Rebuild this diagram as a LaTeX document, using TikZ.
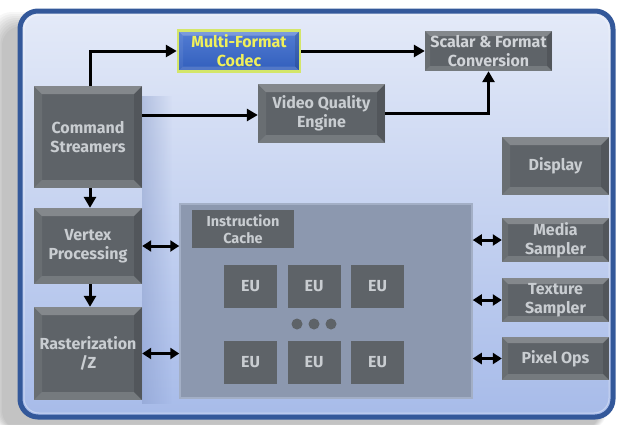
\documentclass[tikz,border=0pt]{standalone}
\usepackage{fontspec}
\setmainfont{Fira Sans}
\usetikzlibrary{arrows.meta,fadings}
\definecolor{frTop}{HTML}{E4EAF8}
\definecolor{frBot}{HTML}{A7BBE9}
\definecolor{frBorder}{HTML}{33589A}
\definecolor{boxgray}{HTML}{5E6368}
\definecolor{boxtext}{HTML}{C9CDD1}
\definecolor{panelc}{HTML}{8C98AF}
\definecolor{paneledge}{HTML}{A3AFC6}
\definecolor{codecblue}{HTML}{3566CC}
\definecolor{codecedge}{HTML}{D4E66A}
\definecolor{codectext}{HTML}{F0F05A}
\definecolor{shblue}{HTML}{8497C6}
\newcommand{\boxfont}{\bfseries\fontsize{16}{19}\selectfont}
\newcommand{\smallboxfont}{\bfseries\fontsize{14.5}{17.5}\selectfont}
\newcommand{\bvl}[1]{%
\path (path picture bounding box.north west) coordinate (bNW)
 (path picture bounding box.north east) coordinate (bNE)
 (path picture bounding box.south west) coordinate (bSW)
 (path picture bounding box.south east) coordinate (bSE);
\path ([xshift=#1,yshift=-#1]bNW) coordinate (iNW) ([xshift=-#1,yshift=-#1]bNE) coordinate (iNE)
 ([xshift=#1,yshift=#1]bSW) coordinate (iSW) ([xshift=-#1,yshift=#1]bSE) coordinate (iSE);
\fill[white,opacity=.24] (bNW)--(bNE)--(iNE)--(iNW)--cycle;
\fill[white,opacity=.15] (bSW)--(bSE)--(iSE)--(iSW)--cycle;
\fill[white,opacity=.07] (bNW)--(iNW)--(iSW)--(bSW)--cycle;
\fill[black,opacity=.12] (bNE)--(iNE)--(iSE)--(bSE)--cycle;
}
\tikzset{
  gbox/.style={fill=boxgray, text=boxtext, font=\boxfont, align=center, inner sep=0pt, path picture={\bvl{8pt}}},
  eubox/.style={fill=boxgray, text=boxtext, font=\boxfont, align=center, inner sep=0pt, minimum width=53pt, minimum height=43pt},
  codecbox/.style={top color=codecblue!85!white, bottom color=codecblue!92!black, draw=codecedge, line width=2.5pt, text=codectext, font=\boxfont, align=center, inner sep=0pt, path picture={\bvl{5pt}}},
  panelbox/.style={fill=panelc, draw=paneledge, line width=1.5pt, inner sep=0pt},
  arr/.style={line width=3pt, -{Triangle[length=11pt,width=12pt]}},
  darr/.style={line width=3pt, {Triangle[length=9pt,width=11pt]}-{Triangle[length=9pt,width=11pt]}}
}
\begin{document}
\begin{tikzpicture}[x=1pt,y=-1pt]
\useasboundingbox (0,0) rectangle (617,424);
\fill[white] (0,0) rectangle (617,424);
% outer shadow
\foreach \k in {0,...,7}{
  \fill[black,opacity=0.03,rounded corners=20pt] (2-\k*1.5,26-\k*2) rectangle (600+\k,430);
}
% frame
\shade[top color=frTop,bottom color=frBot,rounded corners=18pt] (20,11) rectangle (613,417);
\draw[white,opacity=.35,line width=1pt,rounded corners=15pt] (24,15) rectangle (609,413);
\draw[frBorder,line width=5pt,rounded corners=18pt] (20,11) rectangle (613,417);
% soft shadow right of the left column
\fill[shblue,opacity=.45,path fading=east] (142,96) rectangle (172,404);

% nodes
\node[codecbox, minimum width=122pt, minimum height=41pt] (codec) at (239,51) {Multi-Format\\Codec};
\node[gbox, minimum width=127pt, minimum height=40pt, text=boxtext!85!white, path picture={\bvl{5pt}}] (scalar) at (488.5,51) {Scalar \& Format\\Conversion};
\node[gbox, minimum width=108pt, minimum height=102pt] (cs) at (88,137) {Command\\Streamers};
\node[gbox, minimum width=127pt, minimum height=59pt] (vqe) at (321.5,113.5) {Video Quality\\Engine};
\node[gbox, minimum width=107pt, minimum height=58pt] (display) at (555.5,166) {Display};
\node[gbox, minimum width=108pt, minimum height=76pt] (vertex) at (88,246) {Vertex\\Processing};
\node[gbox, minimum width=108pt, minimum height=93pt] (raster) at (88,353.5) {Rasterization\\/Z};
\node[panelbox, minimum width=292pt, minimum height=194pt] (panel) at (326,301) {};
\node[fill=boxgray, text=boxtext, font=\smallboxfont, align=center, inner sep=0pt, minimum width=102pt, minimum height=38pt] (icache) at (243,229) {Instruction\\Cache};
\node[eubox] (eu1) at (250.5,286.5) {EU};
\node[eubox] (eu2) at (314,286.5) {EU};
\node[eubox] (eu3) at (377.5,286.5) {EU};
\node[eubox] (eu4) at (250.5,362.5) {EU};
\node[eubox] (eu5) at (314,362.5) {EU};
\node[eubox] (eu6) at (377.5,362.5) {EU};
\node[circle, fill=boxgray, inner sep=0pt, minimum size=11pt] (d1) at (297,324) {};
\node[circle, fill=boxgray, inner sep=0pt, minimum size=11pt] (d2) at (314,324) {};
\node[circle, fill=boxgray, inner sep=0pt, minimum size=11pt] (d3) at (331,324) {};
\node[gbox, minimum width=107pt, minimum height=44pt, path picture={\bvl{6pt}}] (media) at (555.5,240) {Media\\Sampler};
\node[gbox, minimum width=107pt, minimum height=44pt, path picture={\bvl{6pt}}] (texture) at (555.5,300) {Texture\\Sampler};
\node[gbox, minimum width=107pt, minimum height=43pt, path picture={\bvl{6pt}}] (pixel) at (555.5,358.5) {Pixel Ops};

% connectors
\draw[arr] ([xshift=2pt]cs.north) |- (codec.west);
\draw[arr] (codec.east) -- (scalar.west);
\draw[arr] ([yshift=22pt]cs.east) -- ([yshift=22pt]cs.east -| vqe.west);
\draw[arr] (vqe.east) -| (scalar.south);
\draw[arr] ([xshift=2pt]cs.south) -- ([xshift=2pt]vertex.north);
\draw[arr] ([xshift=2pt]vertex.south) -- ([xshift=2pt]raster.north);
\draw[darr] (vertex.east) -- (vertex.east -| panel.west);
\draw[darr] (raster.east) -- (raster.east -| panel.west);
\draw[darr] (media.west -| panel.east) -- (media.west);
\draw[darr] (texture.west -| panel.east) -- (texture.west);
\draw[darr] (pixel.west -| panel.east) -- (pixel.west);
\end{tikzpicture}
\end{document}
